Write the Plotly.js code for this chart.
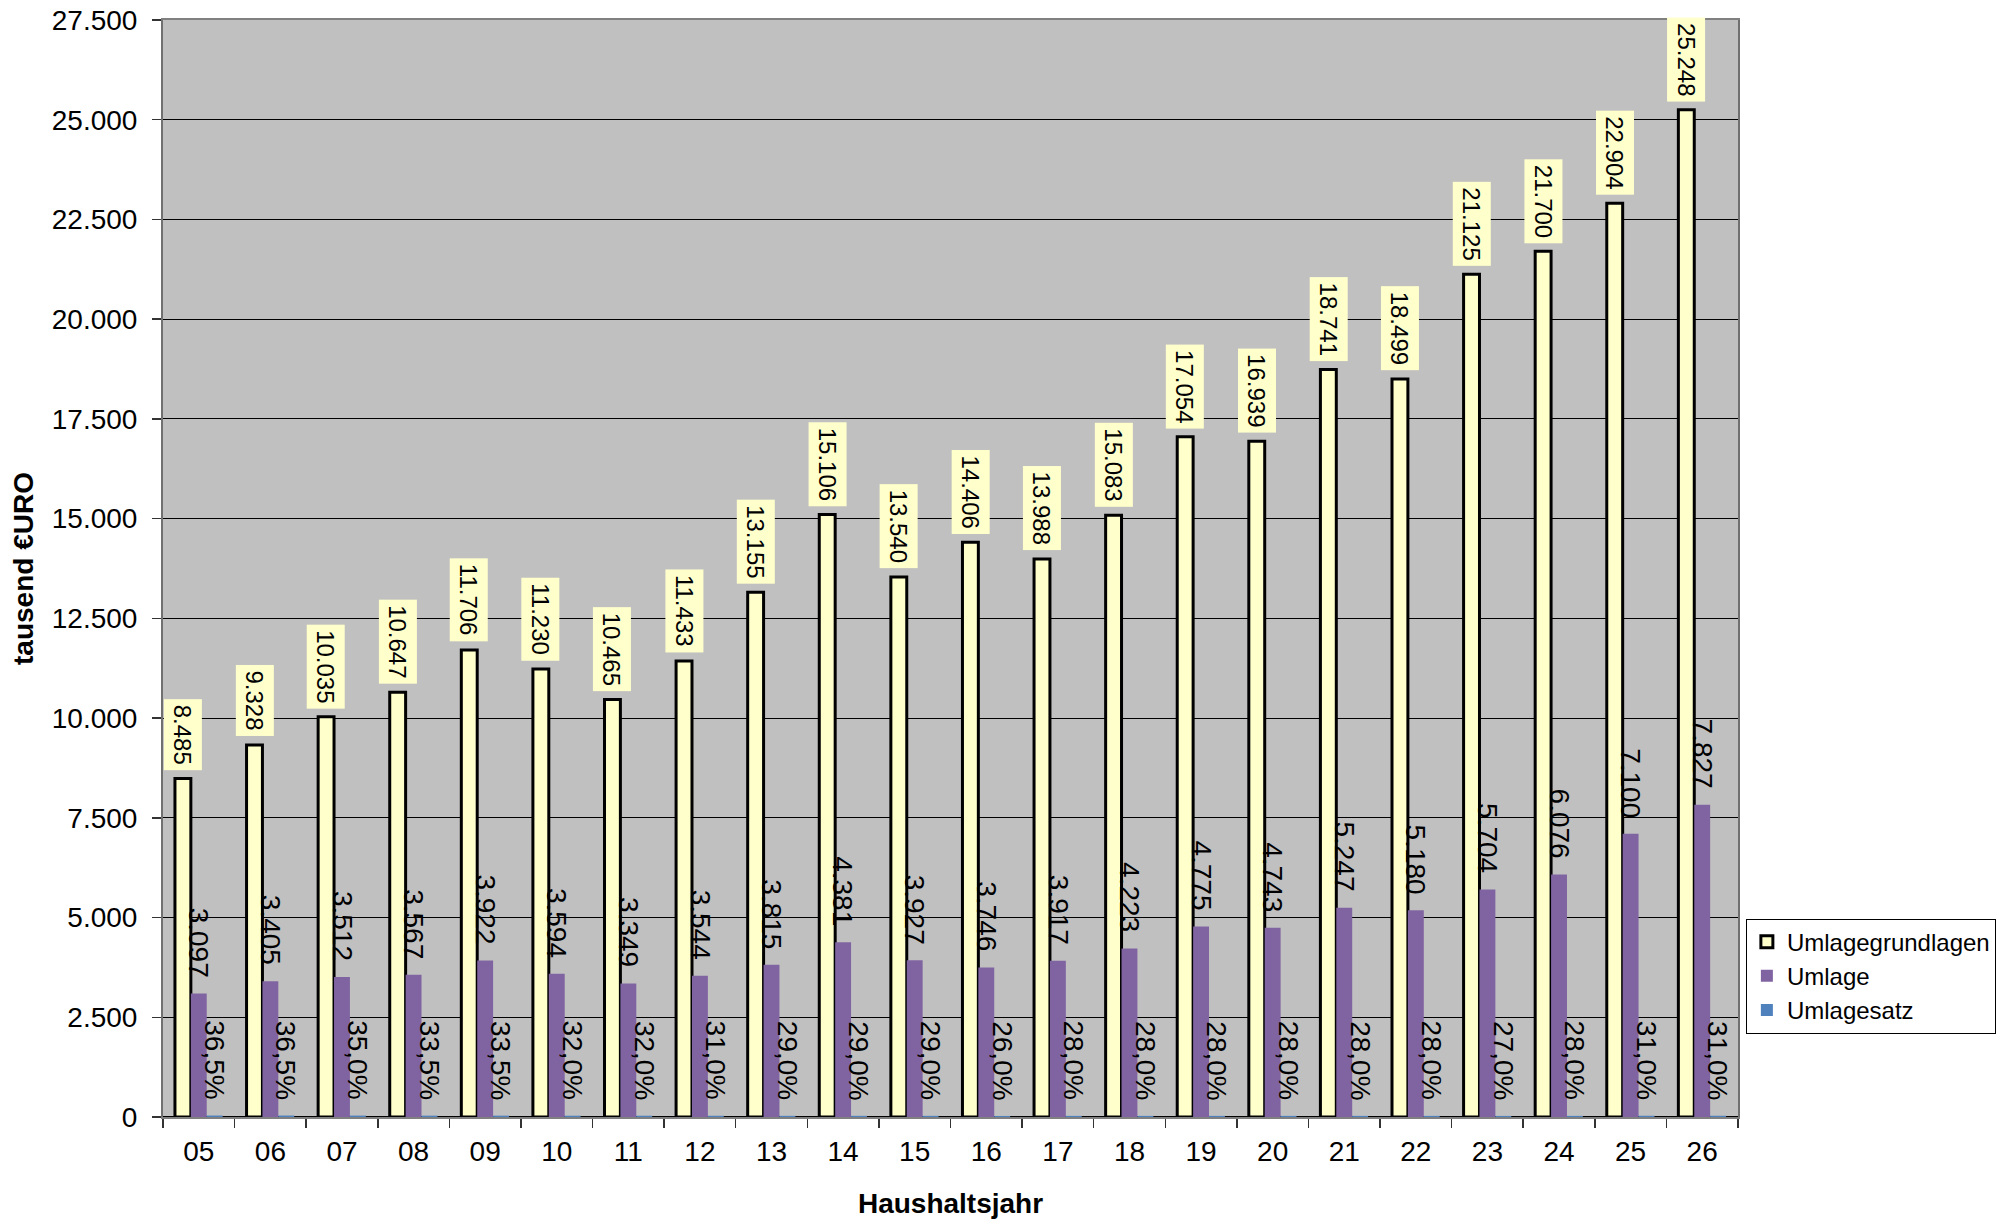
<!DOCTYPE html>
<html>
<head>
<meta charset="utf-8">
<script src="https://cdn.plot.ly/plotly-3.0.1.min.js"></script>
<style>html,body{margin:0;padding:0;background:#fff;}#chart{width:2008px;height:1221px;}</style>
</head>
<body>
<div id="chart"></div>
<script>
var years = ['05','06','07','08','09','10','11','12','13','14','15','16','17','18','19','20','21','22','23','24','25','26'];
var umlagegrundlagen = [8485, 9328, 10035, 10647, 11706, 11230, 10465, 11433, 13155, 15106, 13540, 14406, 13988, 15083, 17054, 16939, 18741, 18499, 21125, 21700, 22904, 25248];
var umlage = [3097, 3405, 3512, 3567, 3922, 3594, 3349, 3544, 3815, 4381, 3927, 3746, 3917, 4223, 4775, 4743, 5247, 5180, 5704, 6076, 7100, 7827];
var umlagesatz = [36.5, 36.5, 35.0, 33.5, 33.5, 32.0, 32.0, 31.0, 29.0, 29.0, 29.0, 26.0, 28.0, 28.0, 28.0, 28.0, 28.0, 28.0, 27.0, 28.0, 31.0, 31.0];
var yTicks = [0, 2500, 5000, 7500, 10000, 12500, 15000, 17500, 20000, 22500, 25000, 27500];

var FONT = 'Arial, "Liberation Sans", sans-serif';
var W = 2008, H = 1221;
var M = {l: 163, r: 264, t: 20, b: 104};
var BARGAP = 0.334;

function fmtThousands(v) {
  return String(v).replace(/\B(?=(\d{3})+(?!\d))/g, '.');
}
function fmtPct(v) {
  return v.toFixed(1).replace('.', ',') + '%';
}

var traces = [
  {type: 'bar', name: 'Umlagegrundlagen', x: years, y: umlagegrundlagen,
   marker: {color: '#FFFFCC', line: {color: '#000000', width: 3}}, hoverinfo: 'none'},
  {type: 'bar', name: 'Umlage', x: years, y: umlage,
   marker: {color: '#8064A2', line: {width: 0}}, hoverinfo: 'none'},
  {type: 'bar', name: 'Umlagesatz', x: years, y: umlagesatz,
   marker: {color: '#4F81BD', line: {width: 0}}, hoverinfo: 'none'}
];

var plotW = W - M.l - M.r;
var catW = plotW / years.length;
var barW = catW * (1 - BARGAP) / 3;

var annotations = [];
for (var i = 0; i < years.length; i++) {
  // on a category axis a numeric x is the category index
  annotations.push({
    x: i, y: umlagegrundlagen[i], xref: 'x', yref: 'y',
    text: fmtThousands(umlagegrundlagen[i]), showarrow: false,
    textangle: 90, xanchor: 'center', yanchor: 'bottom',
    xshift: -barW, yshift: 8,
    bgcolor: '#FFFFCC', borderpad: 5,
    font: {family: FONT, size: 24, color: '#000'}
  });
  annotations.push({
    x: i, y: umlage[i], xref: 'x', yref: 'y',
    text: fmtThousands(umlage[i]), showarrow: false,
    textangle: 90, xanchor: 'center', yanchor: 'bottom',
    xshift: 0, yshift: 15, borderpad: 0,
    font: {family: FONT, size: 28, color: '#000'}
  });
  annotations.push({
    x: i, y: umlagesatz[i], xref: 'x', yref: 'y',
    text: fmtPct(umlagesatz[i]), showarrow: false,
    textangle: 90, xanchor: 'center', yanchor: 'bottom',
    xshift: barW, yshift: 15, borderpad: 0,
    font: {family: FONT, size: 28, color: '#000'}
  });
}

var layout = {
  width: W, height: H,
  margin: M,
  paper_bgcolor: '#FFFFFF',
  plot_bgcolor: '#C0C0C0',
  separators: ',.',
  font: {family: FONT, size: 28, color: '#000'},
  barmode: 'group',
  bargap: BARGAP,
  bargroupgap: 0,
  showlegend: true,
  legend: {
    x: 1.005, xanchor: 'left', y: 0.1285, yanchor: 'middle',
    bgcolor: '#FFFFFF', bordercolor: '#000000', borderwidth: 1,
    font: {family: FONT, size: 24, color: '#000'},
    tracegroupgap: 0
  },
  xaxis: {
    type: 'category',
    range: [-0.5, years.length - 0.5],
    title: {text: '<b>Haushaltsjahr</b>', font: {family: FONT, size: 28, color: '#000'}, standoff: 28},
    tickfont: {family: FONT, size: 28, color: '#000'},
    ticklabelstandoff: 8,
    ticks: 'outside', tickson: 'boundaries', ticklen: 9, tickwidth: 1.5, tickcolor: '#333',
    showgrid: false,
    showline: true, linecolor: '#808080', linewidth: 2, mirror: true,
    automargin: false
  },
  yaxis: {
    range: [0, 27500],
    tickvals: yTicks,
    tickformat: ',d',
    title: {text: '<b>tausend €URO</b>', font: {family: FONT, size: 28, color: '#000'}, standoff: 10},
    tickfont: {family: FONT, size: 28, color: '#000'},
    ticklabelstandoff: 9,
    ticks: 'outside', ticklen: 9, tickwidth: 1.5, tickcolor: '#333',
    showgrid: true, gridcolor: '#000000', gridwidth: 1,
    zeroline: true, zerolinecolor: '#000000', zerolinewidth: 1.5,
    showline: true, linecolor: '#707070', linewidth: 2, mirror: true,
    automargin: false
  },
  annotations: annotations
};

Plotly.newPlot('chart', traces, layout, {displayModeBar: false, staticPlot: true});
</script>
</body>
</html>
